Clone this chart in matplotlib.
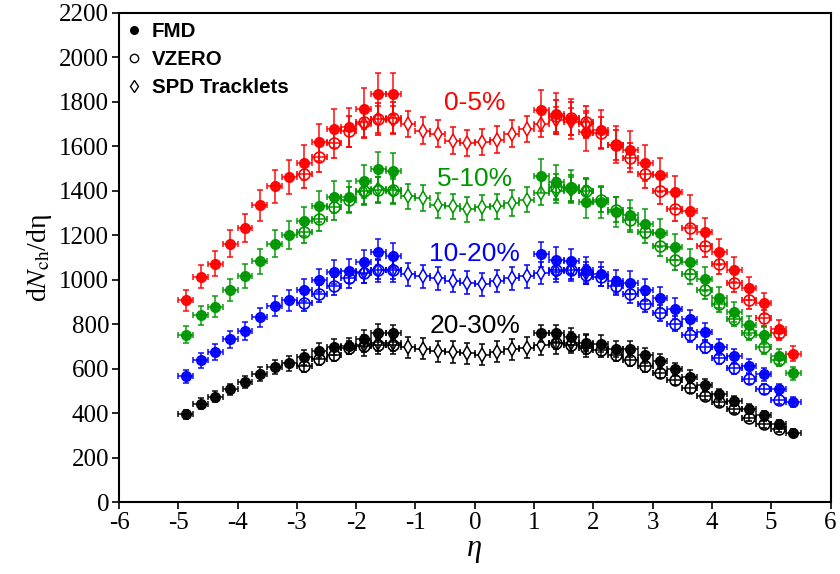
import numpy as np
import matplotlib
matplotlib.use("Agg")
import matplotlib.pyplot as plt
from matplotlib.lines import Line2D

# eta bin centres for each detector
fmd_eta = [-4.875, -4.625, -4.375, -4.125, -3.875, -3.625, -3.375, -3.125,
           -2.875, -2.625, -2.375, -2.125, -1.875, -1.625, -1.375,
           1.125, 1.375, 1.625, 1.875, 2.125, 2.375, 2.625, 2.875, 3.125,
           3.375, 3.625, 3.875, 4.125, 4.375, 4.625, 4.875, 5.125, 5.375]
vzero_eta = [-2.875, -2.625, -2.375, -2.125, -1.875, -1.625, -1.375,
             1.375, 1.625, 1.875, 2.125, 2.375, 2.625, 2.875, 3.125,
             3.375, 3.625, 3.875, 4.125, 4.375, 4.625, 4.875, 5.125]
spd_eta = [-1.875, -1.625, -1.375, -1.125, -0.875, -0.625, -0.375, -0.125,
           0.125, 0.375, 0.625, 0.875, 1.125, 1.375, 1.625, 1.875]

centralities = ["0-5%", "5-10%", "10-20%", "20-30%"]
colors = ["#ff0000", "#009600", "#0000ff", "#000000"]
label_y = [1795, 1453, 1116, 793]

# dNch/deta values
fmd = [
    [908, 1014, 1073, 1162, 1233, 1335, 1420, 1464, 1527, 1618, 1679, 1685, 1768, 1835, 1835,
     1762, 1747, 1723, 1664, 1675, 1607, 1585, 1525, 1473, 1395, 1311, 1214, 1124, 1046, 961, 894, 777, 668],
    [754, 840, 880, 956, 1016, 1084, 1162, 1203, 1263, 1330, 1371, 1371, 1443, 1498, 1491,
     1468, 1440, 1418, 1350, 1350, 1305, 1293, 1251, 1211, 1148, 1081, 1004, 919, 854, 795, 750, 657, 579],
    [567, 639, 677, 732, 769, 832, 882, 908, 953, 998, 1036, 1040, 1080, 1124, 1109,
     1114, 1091, 1084, 1046, 1027, 994, 987, 953, 919, 871, 822, 765, 699, 657, 612, 575, 507, 452],
    [395, 444, 475, 507, 540, 576, 609, 624, 652, 682, 699, 704, 734, 762, 759,
     759, 759, 744, 718, 713, 688, 690, 660, 634, 597, 564, 525, 485, 455, 420, 392, 350, 313],
]
vzero = [
    [1476, 1551, 1615, 1667, 1708, 1723, 1727,
     1735, 1725, 1710, 1660, 1607, 1548, 1476, 1398, 1319, 1233, 1151, 1069, 987, 907, 829, 762],
    [1215, 1274, 1326, 1360, 1398, 1405, 1405,
     1416, 1413, 1400, 1360, 1315, 1270, 1215, 1154, 1091, 1024, 956, 892, 825, 762, 697, 638],
    [897, 938, 971, 1006, 1030, 1046, 1046,
     1046, 1046, 1022, 1013, 971, 937, 893, 849, 802, 750, 699, 650, 602, 555, 510, 462],
    [612, 642, 664, 695, 703, 709, 709,
     717, 709, 695, 684, 664, 639, 612, 582, 548, 515, 480, 450, 418, 380, 350, 331],
]
spd = [
    [1700, 1722, 1720, 1700, 1670, 1657, 1625, 1615, 1620, 1630, 1657, 1678, 1700, 1717, 1710, 1700],
    [1395, 1407, 1398, 1375, 1368, 1334, 1330, 1316, 1326, 1330, 1346, 1360, 1391, 1400, 1405, 1398],
    [1035, 1043, 1043, 1024, 1016, 1006, 994, 987, 979, 994, 1006, 1016, 1031, 1040, 1046, 1031],
    [705, 714, 714, 697, 691, 679, 675, 669, 664, 677, 687, 695, 709, 714, 717, 702],
]
# uncertainties: relative for FMD / VZERO, absolute for SPD
fmd_rel_err = 0.052
vzero_rel_err = 0.042
spd_err = [60, 57, 51, 48]
bin_half = 0.125

plt.rcParams['font.family'] = ['Liberation Serif', 'DejaVu Serif']
plt.rcParams['mathtext.fontset'] = 'stix'
plt.rcParams['axes.unicode_minus'] = False

fig = plt.figure(figsize=(8.4, 5.74), dpi=100)
ax = fig.add_axes([0.1417, 0.1249, 0.847, 0.8528])

for i in range(4):
    c = colors[i]
    y = np.array(spd[i])
    ax.errorbar(spd_eta, y, xerr=bin_half, yerr=spd_err[i], fmt='d', ms=7,
                mfc='white', mec=c, mew=1.1, ecolor=c, elinewidth=1.1,
                capsize=2.5, capthick=1.1, zorder=2)
    y = np.array(vzero[i])
    ax.errorbar(vzero_eta, y, xerr=bin_half, yerr=y * vzero_rel_err, fmt='o', ms=7.8,
                mfc='none', mec=c, mew=1.2, ecolor=c, elinewidth=1.1,
                capsize=2.5, capthick=1.1, zorder=3)
    y = np.array(fmd[i])
    ax.errorbar(fmd_eta, y, xerr=bin_half, yerr=y * fmd_rel_err, fmt='o', ms=7,
                mfc=c, mec=c, ecolor=c, elinewidth=1.1, alpha=0.95,
                capsize=2.5, capthick=1.1, zorder=4)
    ax.text(0, label_y[i], centralities[i], color=c, fontsize=19,
            family='Liberation Sans', ha='center', va='center')

ax.set_xlim(-6, 6)
ax.set_ylim(0, 2200)
ax.set_xticks(np.arange(-6, 7, 1))
ax.set_yticks(np.arange(0, 2201, 200))
ax.tick_params(direction='out', length=5, width=1.2, labelsize=18, pad=2,
               top=False, right=False)
for s in ax.spines.values():
    s.set_linewidth(1.5)

ax.set_xlabel('η', fontsize=22, style='italic', labelpad=0)
ax.set_ylabel('d$N_{\\mathrm{ch}}$/dη', fontsize=20, labelpad=4)

handles = [
    Line2D([], [], ls='none', marker='o', ms=5.5, mfc='black', mec='black'),
    Line2D([], [], ls='none', marker='o', ms=6, mfc='white', mec='black', mew=1),
    Line2D([], [], ls='none', marker='d', ms=6.5, mfc='white', mec='black', mew=1),
]
ax.legend(handles, ['FMD', 'VZERO', 'SPD Tracklets'], loc='upper left',
          bbox_to_anchor=(-0.013, 1.018), frameon=False, handlelength=0.6,
          handletextpad=0.55, labelspacing=0.42, borderpad=0.4,
          prop={'family': 'Liberation Sans', 'weight': 'bold', 'size': 14.8})

fig.savefig('out.png', dpi=100)
